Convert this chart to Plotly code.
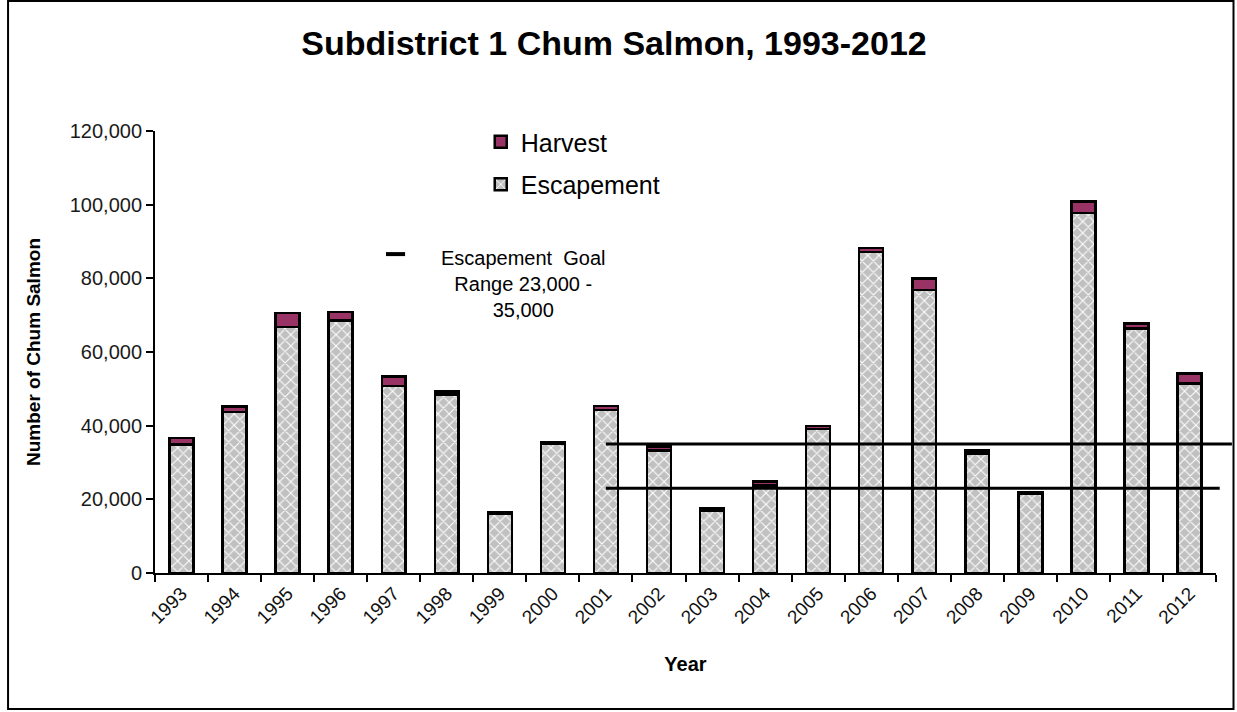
import plotly.graph_objects as go

# Subdistrict 1 chum salmon counts by year
years = [str(y) for y in range(1993, 2013)]
escapement = [34900, 43700, 66800, 68600, 50800, 48400, 16000, 35000, 44300, 33300,
              17000, 23800, 39100, 87200, 76900, 32400, 21400, 97800, 66400, 51500]
harvest = [1700, 1500, 3800, 2300, 2500, 900, 400, 600, 1100, 1100,
           500, 1100, 800, 1100, 3100, 900, 600, 3000, 1400, 2700]

# Escapement goal range and the first year it applies
goal_low = 23000
goal_high = 35000
goal_start_year = "2001"

FONT = "Arial, Liberation Sans, sans-serif"

fig = go.Figure()

fig.add_trace(go.Bar(
    x=years, y=escapement, name="Escapement", legendgroup="esc", legendrank=2,
    width=0.45,
    marker=dict(
        color="#C0C0C0",
        line=dict(color="black", width=2.5),
        pattern=dict(shape="x", fgcolor="white", bgcolor="#C0C0C0",
                     size=8, solidity=0.25, fillmode="replace"),
    ),
))
fig.add_trace(go.Bar(
    x=years, y=harvest, name="Harvest", legendgroup="harv", legendrank=1,
    width=0.45,
    marker=dict(color="#993366", line=dict(color="black", width=2.5)),
))

# Goal range lines: from the 2001 bar centre, running a little past the last year
n = len(years)
start_idx = years.index(goal_start_year)
x_start = (start_idx + 0.5) / n
for val, overrun in [(goal_high, 0.3), (goal_low, 0.07)]:
    fig.add_shape(type="line", xref="x domain", yref="y",
                  x0=x_start, x1=(n + overrun) / n, y0=val, y1=val,
                  line=dict(color="black", width=3), layer="above")

# Key for the goal lines
fig.add_shape(type="line", xref="paper", yref="paper",
              x0=0.2177, x1=0.2357, y0=0.7215, y1=0.7215,
              line=dict(color="black", width=4))
fig.add_annotation(xref="paper", yref="paper", x=0.3475, y=0.741,
                   xanchor="center", yanchor="top", align="center",
                   showarrow=False,
                   text="Escapement  Goal<br>Range 23,000 -<br>35,000",
                   font=dict(family=FONT, size=20, color="black"))

# Outer frame
fig.add_shape(type="rect", xref="paper", yref="paper",
              x0=-0.1385, x1=1.0165, y0=-0.3077, y1=1.294,
              line=dict(color="black", width=2), fillcolor="rgba(0,0,0,0)")

fig.update_layout(
    width=1237, height=712,
    margin=dict(l=155, r=21, t=131, b=139),
    paper_bgcolor="white", plot_bgcolor="white",
    barmode="stack",
    font=dict(family=FONT, color="black"),
    title=dict(text="<b>Subdistrict 1 Chum Salmon, 1993-2012</b>",
               x=0.4326, xref="paper", xanchor="center",
               y=0.94, yref="container", yanchor="middle",
               font=dict(family=FONT, size=34, color="black")),
    legend=dict(x=0.307, y=1.027, xanchor="left", yanchor="top",
                traceorder="grouped", tracegroupgap=7,
                font=dict(family=FONT, size=25, color="black"),
                bgcolor="rgba(0,0,0,0)"),
    showlegend=True,
    xaxis=dict(
        type="category", tickson="boundaries", range=[-0.5, n - 0.5],
        showline=True, linecolor="black", linewidth=2,
        ticks="outside", ticklen=7, tickwidth=2, tickcolor="black",
        tickangle=-45, tickfont=dict(family=FONT, size=19, color="#111"),
        showgrid=False, zeroline=False,
        title=dict(text="<b>Year</b>", standoff=30,
                   font=dict(family=FONT, size=20, color="black")),
    ),
    yaxis=dict(
        range=[0, 120000], tickvals=[0, 20000, 40000, 60000, 80000, 100000, 120000],
        tickformat=",",
        showline=True, linecolor="black", linewidth=2,
        ticks="outside", ticklen=7, tickwidth=2, tickcolor="black",
        tickfont=dict(family=FONT, size=20, color="#1a1a1a"),
        showgrid=False, zeroline=False,
        title=dict(text="<b>Number of Chum Salmon</b>", standoff=24,
                   font=dict(family=FONT, size=19, color="black")),
    ),
)

fig.write_html("out.html")
